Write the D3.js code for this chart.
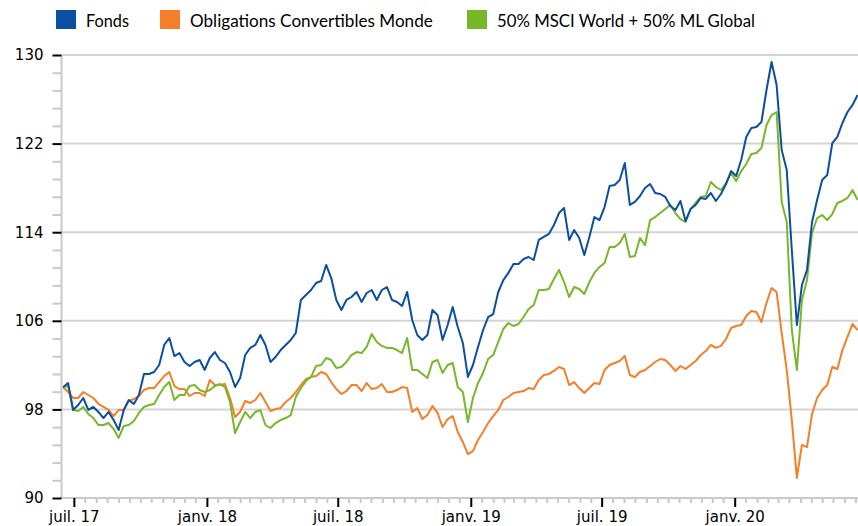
<!DOCTYPE html>
<html><head><meta charset="utf-8">
<script src="https://cdn.jsdelivr.net/npm/d3@7"></script>
<style>body{margin:0;background:#fff}svg{display:block}</style>
</head><body><svg id="c" width="858" height="526"></svg>
<script>
// ---- data (weekly values) ----
const startDate = "2017-06-16";
const endDate = "2020-06-19";
const stepDays = 7;
const fonds = [100.0,100.38,97.95,98.40,99.03,97.95,98.22,97.77,97.22,97.77,
97.04,96.14,97.95,98.85,98.49,99.30,101.20,101.20,101.38,102.01,
103.82,104.45,102.82,103.09,102.28,101.92,102.28,102.46,101.56,102.64,
103.18,102.46,102.19,101.38,100.02,100.83,102.91,103.55,103.82,104.72,
103.82,102.28,102.73,103.36,103.82,104.27,104.90,107.88,108.33,108.78,
109.41,109.59,111.04,109.86,107.88,106.98,107.88,108.15,108.60,107.70,
108.51,108.78,107.88,108.78,109.05,107.88,107.70,107.34,108.60,106.07,
104.72,104.27,104.72,106.98,106.52,104.27,105.62,107.25,105.44,104.00,
100.93,102.01,103.63,105.17,106.34,106.61,108.60,109.68,110.32,111.13,
111.13,111.58,111.76,111.49,113.30,113.57,113.84,114.65,115.73,116.18,
113.30,114.20,113.48,111.94,113.57,115.37,115.10,116.27,118.17,118.26,
118.71,120.25,116.46,116.73,117.27,117.99,118.35,117.54,117.45,117.18,
116.37,116.00,116.82,115.01,116.09,116.46,117.09,117.00,117.54,116.82,
117.45,118.35,119.52,119.07,120.52,122.60,123.41,123.50,123.95,126.84,
129.37,127.29,121.42,119.61,112.39,105.62,109.23,110.59,114.92,116.91,
118.71,119.16,122.05,122.60,123.86,124.85,125.49,126.39];
const obligations = [100.0,99.57,99.03,99.03,99.57,99.30,99.03,98.49,98.22,97.95,
97.40,97.95,97.95,98.76,98.94,99.21,99.75,99.93,99.93,100.47,
101.02,101.38,100.11,99.84,99.84,99.21,99.48,99.48,99.21,100.65,
100.20,100.20,100.29,99.03,97.31,97.77,98.76,98.58,98.85,99.48,
98.67,97.86,98.04,98.13,98.67,99.03,99.57,100.20,100.74,100.92,
101.01,101.38,101.20,100.47,99.84,99.39,99.66,100.20,100.20,99.66,
100.38,99.84,99.93,100.29,99.57,99.57,99.75,100.02,99.93,97.77,
98.13,97.13,97.50,98.31,97.68,96.41,97.13,97.40,95.96,95.06,
93.97,94.24,95.24,95.96,96.77,97.40,97.95,98.85,99.12,99.48,
99.57,99.66,99.93,99.84,100.65,101.11,101.20,101.47,101.83,101.65,
100.20,100.47,99.93,99.48,99.93,100.38,100.29,101.56,102.01,102.19,
102.37,102.82,101.11,100.92,101.38,101.56,101.92,102.28,102.55,102.46,
102.01,101.47,101.92,101.65,102.01,102.37,102.91,103.27,103.82,103.55,
103.73,104.36,105.35,105.53,105.62,106.43,106.88,106.79,105.89,107.61,
108.96,108.60,104.90,101.56,97.04,91.81,94.79,94.60,97.59,99.03,
99.75,100.20,101.83,101.65,103.36,104.54,105.71,105.17];
const indice = [100.0,100.11,97.95,97.86,98.22,97.59,97.22,96.59,96.59,96.77,
96.23,95.42,96.50,96.59,96.95,97.68,98.22,98.40,98.49,99.30,
100.02,100.47,98.85,99.30,99.30,100.11,100.20,99.75,99.57,99.75,
100.11,100.29,100.02,98.67,95.87,96.86,97.77,97.22,97.77,97.95,
96.59,96.32,96.77,97.04,97.22,97.49,99.12,99.93,100.56,100.92,
101.92,102.01,102.64,102.46,101.74,101.83,102.28,102.91,103.18,103.09,
103.64,104.81,104.09,103.73,103.55,103.55,103.36,103.09,104.45,101.56,
101.56,101.20,100.83,102.28,102.46,101.29,102.01,102.19,100.02,99.57,
96.86,99.03,100.38,101.29,102.55,102.91,104.09,105.26,105.80,105.53,
105.71,106.34,107.07,107.43,108.78,108.78,108.87,109.77,110.59,109.50,
108.15,109.05,108.87,108.42,109.50,110.32,110.86,111.22,112.66,112.66,
113.02,113.84,111.76,111.85,113.48,112.84,115.10,115.37,115.73,116.10,
116.46,115.73,115.19,114.92,116.10,116.64,117.18,117.27,118.53,118.08,
117.81,118.44,119.34,118.62,119.52,120.16,121.06,121.15,121.60,123.68,
124.58,124.85,116.73,114.92,105.17,101.56,107.88,109.68,113.93,115.28,
115.55,115.10,115.64,116.64,116.82,117.09,117.81,116.91];
const seriesNames = ["Fonds","Obligations Convertibles Monde","50% MSCI World + 50% ML Global"];
const yTickValues = [90,98,106,114,122,130];
const xTickDates = ["2017-07-01","2018-01-01","2018-07-01","2019-01-01","2019-07-01","2020-01-01"];
const xTickLabels = ["juil. 17","janv. 18","juil. 18","janv. 19","juil. 19","janv. 20"];

// ---- styles ----
const colors = ["#0c4fa2","#f57f28","#77b82a"];
const svg = d3.select("#c");
const parse = d3.timeParse("%Y-%m-%d");
const t0 = parse(startDate);
const dates = fonds.map((_, i) => d3.timeDay.offset(t0, i * stepDays));

const x = d3.scaleTime().domain([t0, parse(endDate)]).range([63, 857.6]);
const y = d3.scaleLinear().domain([90, 130]).range([498, 55]);

// gridlines
svg.append("g").selectAll("line").data(yTickValues.filter(v => v > 90)).join("line")
  .attr("x1", 62).attr("x2", 858).attr("y1", d => y(d)).attr("y2", d => y(d))
  .attr("stroke", "#d4d4d4").attr("stroke-width", 2);

// minor y ticks
const yMinor = d3.range(90, 130.01, 1.6).filter(v => !yTickValues.some(t => Math.abs(t - v) < 0.01));
const gyMinor = svg.append("g").attr("transform", "translate(61.5,0)")
  .call(d3.axisLeft(y).tickValues(yMinor).tickSize(9).tickFormat(""));
gyMinor.select(".domain").remove();
gyMinor.selectAll("line").attr("stroke", "#c9c9c9").attr("stroke-width", 2);

// minor x ticks (1st and 16th of each month)
const xMinor = [];
d3.timeMonth.range(d3.timeMonth.floor(t0), parse("2020-07-01")).forEach(m => {
  xMinor.push(m); xMinor.push(d3.timeDay.offset(m, 15));
});
const xMinorF = xMinor.filter(d => x(d) > 63 && x(d) < 858 && !xTickDates.includes(d3.timeFormat("%Y-%m-%d")(d)));
const gxMinor = svg.append("g").attr("transform", "translate(0,498)")
  .call(d3.axisBottom(x).tickValues(xMinorF).tickSize(5).tickFormat(""));
gxMinor.select(".domain").remove();
gxMinor.selectAll("line").attr("stroke", "#c9c9c9").attr("stroke-width", 2);

// x axis
const gx = svg.append("g").attr("transform", "translate(0,498)")
  .call(d3.axisBottom(x).tickValues(xTickDates.map(parse)).tickSize(9).tickPadding(4)
    .tickFormat((d, i) => xTickLabels[i]));
gx.select(".domain").attr("d", "M61,0H858").attr("stroke", "#c9c9c9").attr("stroke-width", 2);
gx.selectAll("line").attr("stroke", "#000").attr("stroke-width", 2);
gx.selectAll("text").attr("font-family", "DejaVu Sans, Verdana, sans-serif").attr("font-size", 15).attr("fill", "#000");

// y axis
const gy = svg.append("g").attr("transform", "translate(61.5,0)")
  .call(d3.axisLeft(y).tickValues(yTickValues).tickSize(9).tickPadding(9));
gy.select(".domain").attr("d", "M0,55V499").attr("stroke", "#c9c9c9").attr("stroke-width", 2);
gy.selectAll("line").attr("stroke", "#000").attr("stroke-width", 2);
gy.selectAll("text").attr("font-family", "DejaVu Sans, Verdana, sans-serif").attr("font-size", 15).attr("fill", "#000");

// lines
svg.append("clipPath").attr("id", "clip").append("rect")
  .attr("x", 62.5).attr("y", 0).attr("width", 800).attr("height", 498);
const line = d3.line().x((d, i) => x(dates[i])).y(d => y(d));
const gl = svg.append("g").attr("clip-path", "url(#clip)");
[[obligations, 1], [indice, 2], [fonds, 0]].forEach(([s, k]) => {
  gl.append("path").datum(s).attr("d", line).attr("fill", "none")
    .attr("stroke", colors[k]).attr("stroke-width", 2).attr("stroke-linejoin", "round");
});

// legend
const legX = [56, 160, 467];
const legW = [43, 243, 258];
const lg = svg.append("g");
seriesNames.forEach((n, i) => {
  lg.append("rect").attr("x", legX[i]).attr("y", 10).attr("width", 20).attr("height", 19).attr("fill", colors[i]);
  const t = lg.append("text").attr("x", legX[i] + 30).attr("y", 27)
    .attr("font-family", "Lato, 'Open Sans', sans-serif").attr("font-size", 17).attr("fill", "#000").text(n);
  const w = t.node().getComputedTextLength();
  t.attr("font-size", (17 * legW[i] / w).toFixed(2));
});
</script></body></html>
